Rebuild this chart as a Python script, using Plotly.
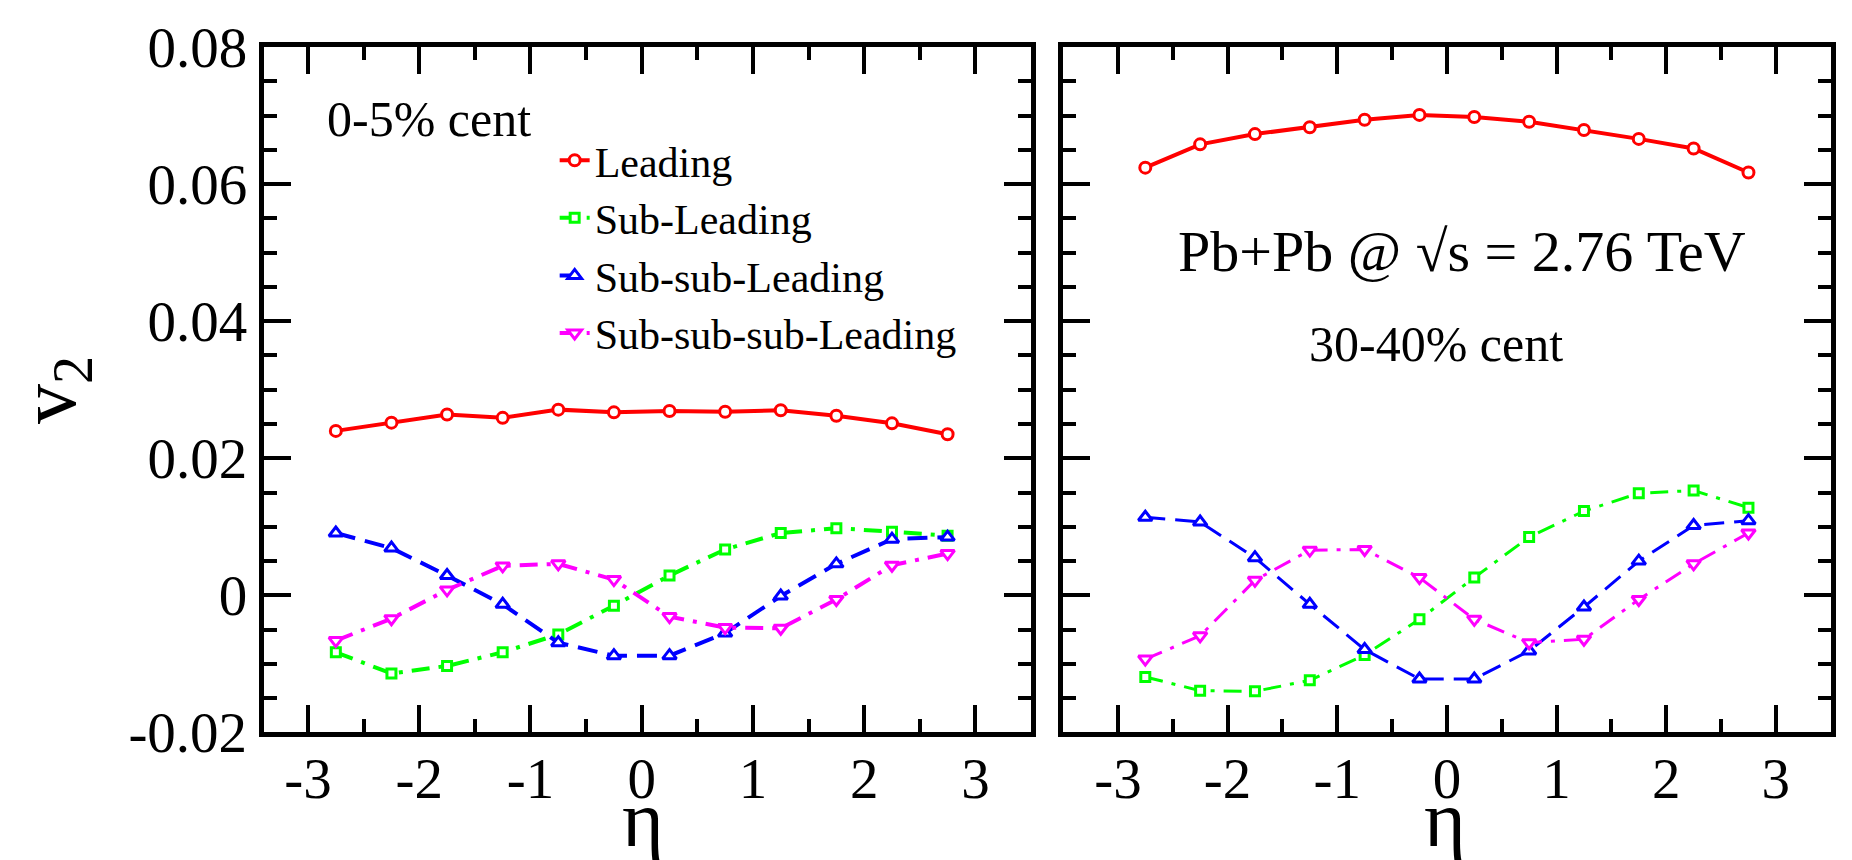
import plotly.graph_objects as go

# ---------------- data ----------------
eta = [-2.75, -2.25, -1.75, -1.25, -0.75, -0.25, 0.25, 0.75, 1.25, 1.75, 2.25, 2.75]

# 0-5% centrality
lead_05 = [0.0240, 0.0252, 0.0264, 0.0259, 0.0271, 0.0267, 0.0269, 0.0268, 0.0270, 0.0262, 0.0251, 0.0235]
sub_05 = [-0.0083, -0.0114, -0.0103, -0.0083, -0.0057, -0.0015, 0.0029, 0.0067, 0.0091, 0.0098, 0.0093, 0.0087]
subsub_05 = [0.0091, 0.0069, 0.0029, -0.0013, -0.0069, -0.0088, -0.0088, -0.0055, -0.0001, 0.0046, 0.0082, 0.0085]
subsubsub_05 = [-0.0066, -0.0034, 0.0008, 0.0043, 0.0046, 0.0023, -0.0031, -0.0047, -0.0048, -0.0006, 0.0044, 0.0061]

# 30-40% centrality
lead_3040 = [0.0624, 0.0658, 0.0673, 0.0683, 0.0694, 0.0701, 0.0698, 0.0691, 0.0679, 0.0666, 0.0652, 0.0617]
sub_3040 = [-0.0119, -0.0139, -0.0140, -0.0124, -0.0087, -0.0035, 0.0026, 0.0085, 0.0123, 0.0149, 0.0153, 0.0128]
subsub_3040 = [0.0114, 0.0107, 0.0055, -0.0013, -0.0079, -0.0122, -0.0122, -0.0081, -0.0017, 0.0050, 0.0102, 0.0109]
subsubsub_3040 = [-0.0093, -0.0059, 0.0022, 0.0066, 0.0067, 0.0026, -0.0035, -0.0069, -0.0064, -0.0006, 0.0046, 0.0091]

series_names = ["Leading", "Sub-Leading", "Sub-sub-Leading", "Sub-sub-sub-Leading"]

x_tickvals = [-3, -2, -1, 0, 1, 2, 3]
x_ticktext = ["-3", "-2", "-1", "0", "1", "2", "3"]
x_minorvals = [-3.5, -2.5, -1.5, -0.5, 0.5, 1.5, 2.5, 3.5]
y_tickvals = [-0.02, 0.0, 0.02, 0.04, 0.06, 0.08]
y_ticktext = ["-0.02", "0", "0.02", "0.04", "0.06", "0.08"]
y_minorvals = [-0.015, -0.01, -0.005, 0.005, 0.01, 0.015, 0.025, 0.03, 0.035,
               0.045, 0.05, 0.055, 0.065, 0.07, 0.075]

FONT = "'Liberation Serif', 'Times New Roman', 'DejaVu Serif', serif"

styles = [
    dict(color="#ff0000", dash="solid", symbol="circle", msize=11),
    dict(color="#00ff00", dash="18px,9px,4px,9px", symbol="square", msize=9),
    dict(color="#0000ff", dash="20px,10px", symbol="triangle-up", msize=12),
    dict(color="#ff00ff", dash="18px,9px,4px,9px", symbol="triangle-down", msize=12),
]

fig = go.Figure()

panels = [
    ("x", "y", [lead_05, sub_05, subsub_05, subsubsub_05], True, [4, 4, 4, 4]),
    ("x2", "y2", [lead_3040, sub_3040, subsub_3040, subsubsub_3040], False, [4, 3, 3, 3]),
]

for xa, ya, data, showleg, widths in panels:
    for name, vals, st, lw in zip(series_names, data, styles, widths):
        fig.add_trace(go.Scatter(
            x=eta, y=vals, name=name, xaxis=xa, yaxis=ya,
            mode="lines+markers", showlegend=showleg,
            line=dict(color=st["color"], width=lw, dash=st["dash"]),
            marker=dict(symbol=st["symbol"], size=st["msize"], color="white",
                        line=dict(color=st["color"], width=3)),
        ))

def xaxis_cfg(domain, rng):
    return dict(
        domain=domain, range=rng, tickmode="array", tickvals=x_tickvals, ticktext=x_ticktext,
        ticks="inside", ticklen=27, tickwidth=4, tickcolor="black",
        showline=True, linewidth=5, linecolor="black", mirror="ticks",
        showgrid=False, zeroline=False, automargin=False, ticklabelstandoff=-8,
        tickfont=dict(family=FONT, size=57, color="black"),
        minor=dict(tickmode="array", tickvals=x_minorvals, ticks="inside", ticklen=13,
                   tickwidth=4, tickcolor="black", showgrid=False),
    )

def yaxis_cfg(anchor, showlabels):
    return dict(
        domain=[0.1483, 0.9453], range=[-0.02, 0.08], anchor=anchor,
        tickmode="array", tickvals=y_tickvals, ticktext=y_ticktext, showticklabels=showlabels,
        ticks="inside", ticklen=27, tickwidth=4, tickcolor="black",
        showline=True, linewidth=5, linecolor="black", mirror="ticks",
        showgrid=False, zeroline=False, ticklabelstandoff=0, automargin=False,
        tickfont=dict(family=FONT, size=57, color="black"),
        minor=dict(tickmode="array", tickvals=y_minorvals, ticks="inside", ticklen=13,
                   tickwidth=4, tickcolor="black", showgrid=False),
    )

fig.update_layout(
    template="none",
    width=1852, height=860,
    margin=dict(l=0, r=0, t=0, b=0, autoexpand=False),
    paper_bgcolor="white", plot_bgcolor="white",
    font=dict(family=FONT, color="black"),
    xaxis=dict(xaxis_cfg([0.1423, 0.5567], [-3.4, 3.5]), anchor="y"),
    xaxis2=dict(xaxis_cfg([0.5740, 0.9885], [-3.5, 3.5]), anchor="y2"),
    yaxis=yaxis_cfg("x", True),
    yaxis2=yaxis_cfg("x2", False),
    legend=dict(x=0.2995, y=0.853, xanchor="left", yanchor="top",
                bgcolor="rgba(0,0,0,0)", borderwidth=0,
                font=dict(family=FONT, size=42, color="black")),
    showlegend=True,
)

annos = [
    dict(text="0-5% cent", x=429 / 1852, y=0.8616, size=50, angle=0),
    dict(text="Pb+Pb @ \u221as = 2.76 TeV", x=1462 / 1852, y=0.7081, size=58, angle=0),
    dict(text="30-40% cent", x=1436 / 1852, y=0.600, size=50, angle=0),
    dict(text="\u03b7", x=643 / 1852, y=0.048, size=80, angle=0),
    dict(text="\u03b7", x=1445 / 1852, y=0.048, size=80, angle=0),
    dict(text="v<sub>2</sub>", x=54 / 1852, y=0.5465, size=80, angle=-90),
]
for a in annos:
    fig.add_annotation(text=a["text"], x=a["x"], y=a["y"], xref="paper", yref="paper",
                       xanchor="center", yanchor="middle", showarrow=False,
                       textangle=a["angle"],
                       font=dict(family=FONT, size=a["size"], color="black"))

fig.write_html(
    "out.html",
    config={"displayModeBar": False},
    post_script="document.body.style.margin='0';document.body.style.overflow='hidden';",
)
